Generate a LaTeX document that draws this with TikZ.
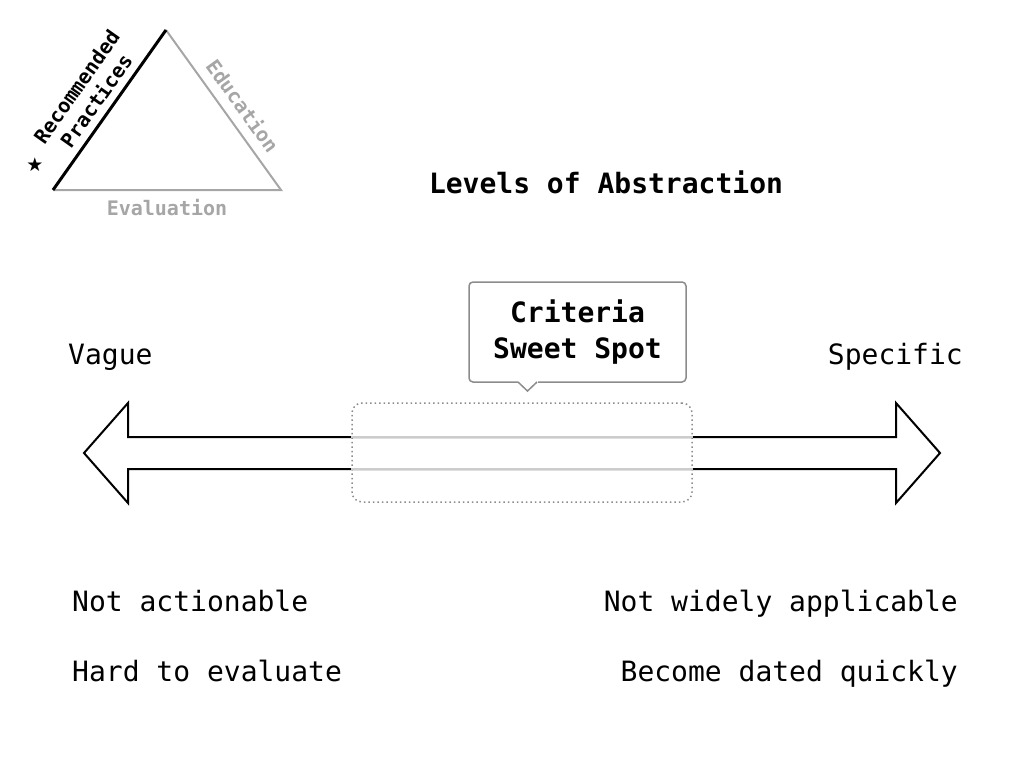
\documentclass[tikz,border=0pt]{standalone}
\usepackage{fontspec}
\setmainfont{DejaVu Sans Mono}
\newfontfamily\symfont{DejaVu Sans}
\usetikzlibrary{positioning, calc}

\begin{document}
\begin{tikzpicture}[x=1pt, y=-1pt,
    label/.style={font=\fontsize{28}{34}\selectfont, inner sep=0pt},
    heading/.style={font=\fontsize{28}{36}\selectfont\bfseries, inner sep=0pt, align=center},
    corner/.style={font=\fontsize{20}{24}\selectfont\bfseries, inner sep=2pt, align=center},
    edge/.style={line width=2pt, draw=black!35},
    bigarrow/.style={line width=2pt, line join=miter},
    callout/.style={draw=black!45, line width=1.5pt, rounded corners=4pt, fill=white,
        minimum width=217pt, minimum height=100pt},
    spotzone/.style={draw=black!45, line width=1.5pt, dash pattern=on 1.5pt off 3pt,
        rounded corners=10pt, minimum width=340pt, minimum height=99pt}
]
    \useasboundingbox (0,0) rectangle (1024,768);

    % Triangle
    \coordinate (TL) at (53,190);
    \coordinate (TT) at (166,30);
    \coordinate (TR) at (281,190);
    \draw[edge] (TT) -- node[corner, sloped, above=7pt, pos=0.54, text=black!35] (edu) {Education} (TR) -- (TL);
    \draw[line width=3pt] (TL) -- node[corner, sloped, above=5pt] (rec) {Recommended\\Practices} (TT);
    \node[corner, text=black!35] (eval) at (167,208) {Evaluation};
    \node[font=\symfont\fontsize{19}{19}\selectfont, inner sep=0pt] (star) at (35,165) {★};

    % Title
    \node[heading, anchor=base] (title) at (606,193) {Levels of Abstraction};

    % Double arrow
    \coordinate (Ltip) at (84,453);
    \coordinate (Rtip) at (940,453);
    \draw[bigarrow] (Ltip) -- (128,403) -- (128,437) -- (896,437) -- (896,403) -- (Rtip)
        -- (896,503) -- (896,469) -- (128,469) -- (128,503) -- cycle;

    % Sweet spot zone
    \node[spotzone] (zone) at (522,452.5) {};
    \draw[black!20, line width=2pt] (zone.west |- 0,437) -- (zone.east |- 0,437);
    \draw[black!20, line width=2pt] (zone.west |- 0,469) -- (zone.east |- 0,469);

    % Callout
    \node[callout, heading] (spot) at (577.5,332) {Criteria\\Sweet Spot};
    \coordinate (P1) at (518,382);
    \coordinate (P2) at (527.5,391);
    \coordinate (P3) at (537,382);
    \fill[white] (517.5,380) rectangle (537.5,383.5);
    \draw[draw=black!45, line width=1.5pt, line join=miter] (P1) -- (P2) -- (P3);

    % End labels
    \node[label, anchor=base west] (vague) at (68,364) {Vague};
    \node[label, anchor=base east] (specific) at (963,364) {Specific};

    % Drawbacks
    \node[label, anchor=base west] (na) at (72,611) {Not actionable};
    \node[label, anchor=base west] (he) at (72,681) {Hard to evaluate};
    \node[label, anchor=base east] (nw) at (958,611) {Not widely applicable};
    \node[label, anchor=base east] (bd) at (958,681) {Become dated quickly};

\end{tikzpicture}
\end{document}
